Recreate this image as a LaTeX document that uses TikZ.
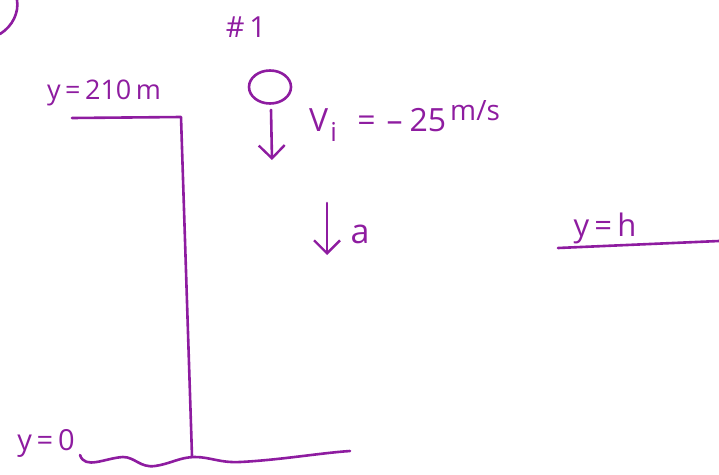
\documentclass[tikz,border=0pt]{standalone}
\usepackage{fontspec}
\setmainfont{Open Sans}
\usetikzlibrary{shapes.geometric,arrows.meta}
\definecolor{ink}{RGB}{142,28,160}
\newcommand{\fsz}[1]{\fontsize{#1}{#1}\selectfont}
\begin{document}
\begin{tikzpicture}[x=1pt,y=-1pt,
  pen/.style={draw=ink,line width=2.6pt,line cap=round,line join=round},
  lbl/.style={text=ink,font=\fsz{27},inner sep=0pt},
  tip/.style={pen,-{Straight Barb[length=13pt,width=26pt,line width=2.4pt]}}]
\useasboundingbox (0,0) rectangle (719,474);
% corner arc
\draw[pen] (0,34) .. controls (13,26) and (19,12) .. (17,0);
% labels
\node[lbl,font=\fsz{29}] (num) at (246,27) {\#\,1};
\node[lbl] (ytop) at (104,93) {y\,=\,210\,m};
\node[lbl,font=\fsz{29}] (yzero) at (46,443) {y\,=\,0};
\node[lbl,font=\fsz{31}] (yh) at (605,228) {y\,=\,h};
\node[lbl,font=\fsz{32},anchor=base west] (vi) at (309,131) {V\hspace{2pt}\textsubscript{\fsz{26}i}\hspace{20pt}=\hspace{11pt}–\hspace{7pt}25\hspace{4pt}\raisebox{11pt}{\fsz{28}m/s}};
\node[lbl,font=\fsz{34}] (acc) at (360,234) {a};
% ball
\node[pen,ellipse,minimum width=42pt,minimum height=33pt,inner sep=0pt] (ball) at (270,87) {};
\coordinate (vend) at (272,160);
\draw[tip] (ball.south) ++(1,5) -- (vend);
\coordinate (atop) at (327,203);
\coordinate (aend) at (327,255);
\draw[tip] (atop) -- (aend);
% cliff
\coordinate (c1) at (72,118);
\coordinate (c2) at (181,117);
\coordinate (c3) at (192,456);
\draw[pen] (c1) -- (c2) -- (c3);
% ground
\coordinate (g0) at (80,455);
\coordinate (g1) at (350,451);
\draw[pen] (g0) .. controls (85,470) and (105,458) .. (123,457)
  .. controls (135,457) and (140,468) .. (155,466)
  .. controls (170,464) and (180,457) .. (195,457)
  .. controls (210,457) and (220,463) .. (240,462)
  .. controls (280,460) and (320,453) .. (g1);
% y=h line
\coordinate (h0) at (558,248);
\coordinate (h1) at (719,241);
\draw[pen] (h0) -- (h1);
\end{tikzpicture}
\end{document}
